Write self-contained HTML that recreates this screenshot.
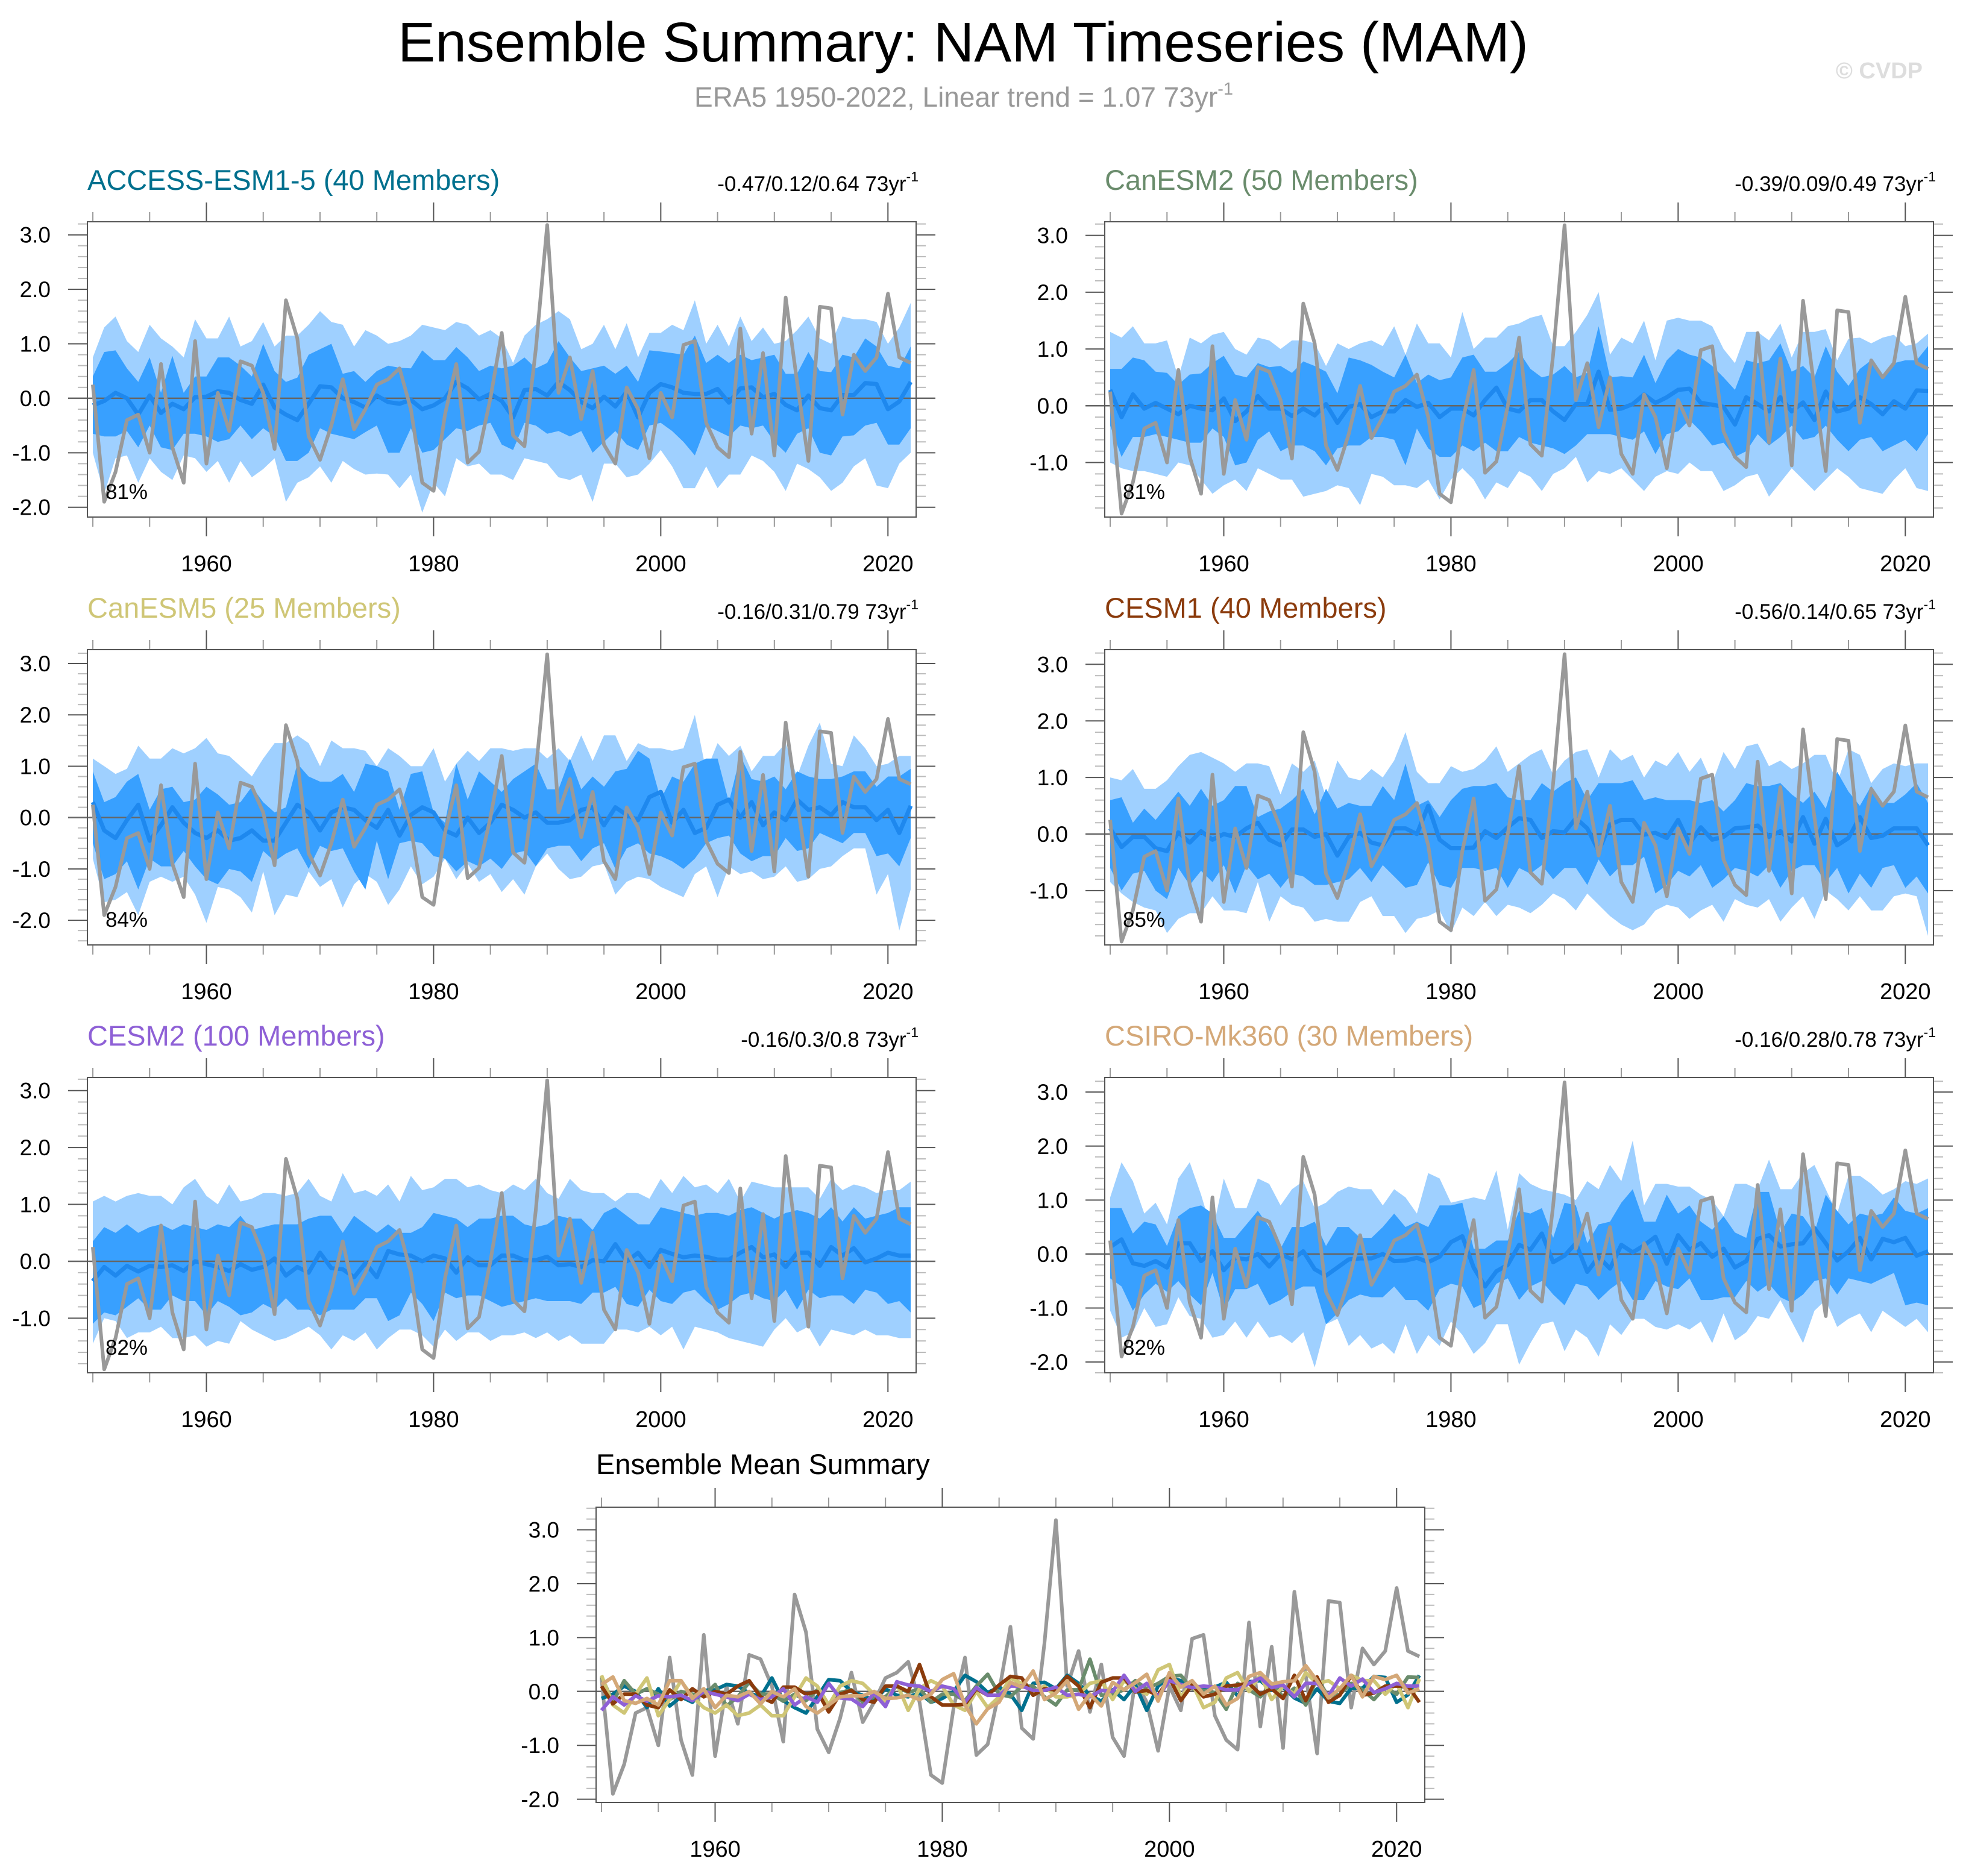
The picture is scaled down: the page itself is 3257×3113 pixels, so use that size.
<!DOCTYPE html>
<html><head><meta charset="utf-8">
<style>
html,body{margin:0;padding:0;background:#fff;}
svg{display:block;font-family:"Liberation Sans",Arial,sans-serif;}
</style></head>
<body>
<svg id="chart" width="3257" height="3113" viewBox="0 0 3257 3113" xmlns="http://www.w3.org/2000/svg">
<rect x="0" y="0" width="3257" height="3113" fill="#fff"/>
<text x="1598" y="102" font-size="93" text-anchor="middle" fill="#000">Ensemble Summary: NAM Timeseries (MAM)</text>
<text x="1152" y="177" font-size="46" fill="#999">ERA5 1950-2022, Linear trend = 1.07 73yr<tspan font-size="29" dy="-20">-1</tspan></text>
<text x="3190" y="130" font-size="38" font-weight="bold" text-anchor="end" fill="#ddd">© CVDP</text>
<g id="plots"></g>
</svg>
<script>
const years = [];
for (let y = 1950; y <= 2022; y++) years.push(y);

const era5 = [0.25,-1.9,-1.35,-0.4,-0.3,-1.0,0.63,-0.9,-1.55,1.05,
-1.2,0.1,-0.6,0.68,0.6,0.1,-0.93,1.8,1.1,-0.7,
-1.13,-0.5,0.35,-0.57,-0.2,0.25,0.35,0.55,-0.2,-1.55,
-1.7,-0.3,0.63,-1.18,-0.98,0.0,1.2,-0.68,-0.88,0.9,
3.18,0.1,0.75,-0.38,0.5,-0.85,-1.2,0.2,-0.2,-1.1,
0.1,-0.35,0.98,1.05,-0.45,-0.9,-1.08,1.28,-0.65,0.83,
-1.05,1.85,0.3,-1.15,1.68,1.65,-0.3,0.8,0.5,0.75,
1.92,0.75,0.65];

/* ACCESS-ESM1-5 */
const accessMean = [-0.13,-0.05,0.1,0.0,-0.3,0.05,-0.27,-0.1,-0.2,0.02,
0.03,0.13,0.1,-0.03,-0.1,0.25,-0.17,-0.3,-0.4,-0.1,
0.22,0.2,0.0,-0.07,-0.17,0.05,-0.07,-0.1,-0.03,-0.2,
-0.13,0.0,0.3,0.18,-0.02,0.08,-0.05,-0.35,0.15,0.17,
0.05,0.3,0.15,-0.07,-0.18,0.03,-0.15,0.12,-0.35,0.1,
0.26,0.2,0.1,0.08,0.08,0.17,-0.08,0.18,0.2,0.02,
0.08,-0.12,-0.22,0.05,-0.18,-0.22,0.06,0.06,0.28,0.26,
-0.2,-0.06,0.3];
const accessInnerHi = [0.4,0.85,0.88,0.55,0.3,0.75,0.1,0.78,0.1,0.4,
0.4,0.75,0.75,0.6,0.4,1.0,0.5,0.3,0.38,0.8,
0.9,1.0,0.45,0.5,0.3,0.5,0.6,0.56,0.55,0.88,
0.7,0.7,0.94,0.75,0.5,0.6,0.55,0.6,0.75,0.55,
0.65,1.05,0.75,0.5,0.55,0.6,0.45,0.6,0.3,0.88,
0.86,0.83,0.8,1.15,0.65,0.8,0.65,0.8,0.7,0.75,
0.8,0.45,0.45,0.85,0.5,0.48,0.8,0.75,1.1,0.95,
0.6,0.55,0.95];
const accessOuterHi = [0.75,1.3,1.5,1.05,0.85,1.35,1.1,0.95,0.75,1.45,
1.1,1.1,1.5,0.95,1.05,1.4,0.95,1.15,1.15,1.35,
1.6,1.4,1.35,0.95,1.25,1.15,1.0,1.05,1.15,1.35,
1.3,1.25,1.4,1.35,1.15,1.25,1.1,0.65,1.15,1.35,
1.45,1.6,1.45,0.9,1.0,1.35,0.9,1.38,0.75,1.2,
1.2,1.35,1.25,1.8,1.0,1.35,0.95,1.5,1.05,1.3,
1.0,1.05,1.25,1.5,1.1,1.0,1.5,1.45,1.45,1.4,
1.0,1.3,1.75];
const accessInnerLo = [-0.65,-0.7,-0.7,-0.6,-0.9,-0.5,-0.9,-0.95,-0.65,-0.65,
-0.7,-0.8,-0.75,-0.5,-0.75,-0.55,-0.7,-1.15,-1.15,-1.0,
-0.55,-0.65,-0.7,-0.75,-0.62,-0.5,-1.0,-1.0,-0.55,-1.0,
-0.95,-0.75,-0.55,-0.6,-0.5,-0.45,-0.85,-0.95,-0.45,-0.5,
-0.65,-0.6,-0.7,-0.6,-1.0,-0.8,-0.6,-0.85,-0.95,-0.5,
-0.45,-0.6,-0.8,-1.05,-0.5,-0.6,-0.7,-0.5,-0.55,-0.5,
-0.8,-1.0,-0.65,-0.55,-1.0,-1.05,-0.7,-0.68,-0.5,-0.45,
-0.85,-0.85,-0.55];
const accessOuterLo = [-1.0,-1.75,-1.1,-1.05,-1.55,-1.1,-1.35,-1.5,-1.05,-1.1,
-1.35,-1.15,-1.55,-1.15,-1.45,-1.3,-1.1,-1.9,-1.55,-1.45,
-1.25,-1.55,-1.15,-1.3,-1.4,-1.38,-1.4,-1.65,-1.4,-2.1,
-1.55,-1.8,-1.1,-1.25,-1.2,-1.4,-1.4,-1.5,-1.1,-1.15,
-1.2,-1.45,-1.5,-1.4,-1.9,-1.2,-1.2,-1.45,-1.4,-1.2,
-0.95,-1.25,-1.65,-1.65,-1.25,-1.65,-1.4,-1.4,-1.05,-1.15,
-1.35,-1.7,-1.2,-1.3,-1.45,-1.7,-1.55,-1.25,-1.1,-1.6,
-1.65,-1.2,-1.0];

/* CanESM2 */
const canesm2Mean = [0.28,-0.2,0.2,-0.05,0.05,-0.05,-0.15,0.0,-0.05,-0.08,
0.13,-0.27,-0.1,0.17,-0.05,-0.05,-0.18,-0.05,-0.17,0.03,
-0.3,-0.02,0.03,-0.2,-0.1,-0.1,0.1,-0.02,0.05,-0.2,
-0.05,-0.05,-0.17,0.1,0.32,-0.05,-0.1,0.1,0.1,-0.1,
-0.25,0.03,0.03,0.6,-0.07,-0.05,0.03,0.2,0.05,0.15,
0.28,0.3,0.05,0.02,-0.02,-0.33,0.15,0.03,-0.1,0.15,
-0.1,0.06,-0.25,0.25,-0.1,-0.05,0.15,0.03,-0.15,0.08,
-0.05,0.27,0.26];
const canesm2InnerHi = [0.65,0.65,0.85,0.8,0.6,0.58,0.37,0.55,0.57,0.75,
0.88,0.55,0.5,0.75,0.68,0.7,0.58,0.78,0.7,0.6,
0.22,0.85,0.8,0.72,0.6,0.5,0.9,0.4,0.55,0.45,
0.5,0.85,0.9,0.6,0.6,0.75,0.95,0.65,0.5,0.55,
0.7,0.5,0.58,1.4,0.5,0.52,0.5,0.9,0.4,0.8,
1.0,0.9,0.85,0.7,0.5,0.28,0.8,0.75,0.8,1.1,
0.6,0.7,0.5,1.05,0.6,0.35,0.65,0.8,0.5,0.75,
0.8,0.8,1.05];
const canesm2OuterHi = [1.3,1.2,1.4,1.1,1.1,1.15,0.5,1.2,1.1,1.25,
1.3,1.0,0.9,1.2,1.15,1.0,1.15,1.15,1.1,0.7,
1.1,1.0,1.1,1.15,1.05,1.4,0.9,1.45,1.1,1.1,
0.85,1.65,1.0,1.2,1.2,1.4,1.45,1.55,1.6,1.05,
1.05,1.3,1.6,2.0,0.9,1.2,1.1,1.5,0.8,1.5,
1.55,1.5,1.5,1.4,1.0,0.75,1.3,1.3,1.15,1.45,
0.85,1.3,1.3,1.35,0.8,1.18,1.2,1.1,1.2,1.25,
1.05,1.1,1.27];
const canesm2InnerLo = [-0.35,-0.9,-0.55,-0.55,-0.5,-0.55,-0.6,-0.65,-0.65,-0.4,
-0.55,-1.05,-1.0,-0.6,-0.45,-0.8,-0.7,-0.7,-0.8,-1.05,
-0.75,-0.7,-0.7,-0.55,-0.55,-0.6,-1.05,-0.4,-0.75,-0.9,
-0.9,-0.7,-0.8,-0.65,-0.8,-0.8,-0.55,-0.65,-0.7,-0.75,
-0.85,-0.7,-0.5,-0.5,-0.5,-0.55,-0.6,-0.45,-0.85,-0.5,
-0.45,-0.25,-0.45,-0.7,-0.65,-0.9,-0.8,-0.5,-0.7,-0.55,
-0.35,-0.6,-0.55,-0.35,-0.6,-0.8,-0.6,-0.55,-0.8,-0.7,
-0.6,-0.8,-0.5];
const canesm2OuterLo = [-1.0,-1.1,-1.15,-1.15,-1.2,-1.25,-1.0,-1.05,-1.3,-1.55,
-1.4,-1.3,-1.5,-1.1,-1.2,-1.3,-1.3,-1.6,-1.55,-1.5,
-1.4,-1.45,-1.75,-1.2,-1.25,-1.4,-1.4,-1.45,-1.3,-1.65,
-1.3,-1.1,-1.3,-1.65,-1.35,-1.45,-1.15,-1.25,-1.5,-1.2,
-1.1,-0.9,-1.35,-1.15,-1.2,-1.1,-1.3,-1.5,-1.25,-1.15,
-1.2,-1.0,-1.15,-1.15,-1.5,-1.4,-1.25,-1.2,-1.6,-1.35,
-1.1,-1.3,-1.5,-1.3,-1.1,-1.25,-1.45,-1.5,-1.55,-1.3,
-1.1,-1.45,-1.5];

/* CanESM5 */
const canesm5Mean = [0.3,-0.25,-0.4,-0.05,0.25,-0.45,-0.15,0.2,-0.1,-0.3,
-0.4,-0.25,-0.45,-0.4,-0.25,-0.45,-0.45,-0.1,0.25,0.1,
-0.25,0.1,0.2,0.15,-0.05,-0.2,0.15,-0.35,0.05,0.2,
0.1,-0.25,-0.35,0.0,-0.3,-0.1,0.25,0.15,0.0,0.1,
-0.1,-0.1,-0.05,0.15,0.2,-0.15,0.2,0.05,-0.05,0.4,
0.5,-0.1,0.15,-0.3,-0.2,0.25,0.35,0.0,0.3,-0.15,
0.1,-0.05,0.35,0.15,0.2,0.05,0.3,0.2,0.2,-0.05,
0.15,-0.3,0.23];
const canesm5InnerHi = [0.9,0.3,0.4,0.7,0.85,0.15,0.55,0.6,0.3,0.35,
0.6,0.45,0.25,0.3,0.6,0.3,0.1,0.2,1.05,0.8,
0.7,0.7,0.85,0.5,1.05,1.0,0.9,0.15,0.85,0.9,
0.1,-0.1,1.05,0.35,0.9,0.7,0.5,0.75,0.9,1.05,
0.55,0.55,1.15,0.55,0.8,0.6,0.9,0.95,1.3,1.15,
0.35,0.8,0.7,1.05,1.15,1.15,0.3,1.2,0.75,0.7,
0.8,0.55,0.9,0.8,0.75,0.75,0.8,0.9,0.9,0.6,
0.8,0.8,0.95];
const canesm5OuterHi = [1.15,1.0,0.85,0.95,1.4,1.15,1.15,1.35,1.25,1.35,
1.55,1.25,1.2,1.0,0.8,1.15,1.45,1.45,1.6,1.45,
1.0,1.5,1.35,1.35,1.3,1.0,1.35,1.2,1.0,1.0,
1.35,0.7,1.05,1.3,1.1,1.35,1.35,1.3,1.35,1.35,
1.15,1.35,1.1,1.6,1.1,1.6,1.6,1.1,1.45,1.35,
1.35,1.3,1.35,2.0,0.9,1.45,1.2,1.4,0.9,1.2,
1.2,1.45,0.8,1.4,1.85,1.05,1.0,1.6,1.35,1.0,
1.05,1.2,1.2];
const canesm5InnerLo = [-0.5,-1.2,-1.1,-0.85,-1.4,-0.8,-0.95,-0.95,-0.65,-0.95,
-1.2,-1.3,-1.0,-1.05,-1.25,-0.65,-0.85,-0.7,-0.6,-1.0,
-0.55,-0.65,-0.6,-1.05,-1.4,-0.45,-1.2,-0.5,-0.45,-0.5,
-0.75,-0.8,-1.05,-0.85,-0.95,-0.8,-1.0,-0.7,-0.65,-0.95,
-0.6,-0.55,-0.55,-0.85,-0.6,-0.5,-1.0,-0.6,-0.5,-0.7,
-0.75,-0.85,-1.0,-0.8,-0.5,-0.4,-0.35,-0.7,-0.85,-0.75,
-0.75,-0.4,-0.65,-0.6,-0.3,-0.4,-0.5,-0.3,-0.3,-0.75,
-0.7,-0.95,-0.4];
const canesm5OuterLo = [-0.8,-1.65,-1.6,-1.45,-1.9,-1.25,-1.15,-1.25,-1.15,-1.5,
-2.05,-1.35,-1.4,-1.55,-1.85,-1.05,-1.9,-1.5,-1.55,-1.05,
-1.35,-1.2,-1.75,-1.3,-1.1,-1.25,-1.7,-1.4,-0.95,-1.3,
-1.15,-0.8,-1.2,-0.9,-1.25,-1.1,-1.45,-1.2,-1.5,-0.95,
-0.7,-1.0,-1.2,-1.15,-0.95,-0.9,-1.5,-1.25,-1.15,-1.2,
-1.35,-1.45,-1.55,-1.1,-0.95,-1.55,-0.95,-1.1,-1.05,-1.2,
-1.15,-0.95,-1.25,-1.2,-1.0,-0.95,-0.75,-0.6,-0.6,-1.5,
-1.1,-2.2,-1.4];

/* CESM1 */
const cesm1Mean = [0.1,-0.23,-0.05,-0.05,-0.25,-0.3,0.03,-0.15,0.05,-0.1,
0.0,-0.05,0.1,0.2,-0.1,-0.2,0.08,0.08,-0.05,0.0,
-0.38,-0.05,0.02,-0.15,-0.2,0.1,0.1,0.0,0.5,-0.1,
-0.25,-0.25,-0.24,0.05,-0.07,0.12,0.28,0.25,-0.07,0.05,
0.03,0.28,0.1,-0.3,0.17,0.25,0.25,-0.01,0.02,-0.07,
0.25,-0.17,0.12,-0.1,-0.05,0.1,0.12,0.15,-0.05,0.05,
-0.13,0.3,-0.17,0.27,-0.2,-0.07,0.3,-0.07,-0.03,0.1,
0.1,0.1,-0.2];
const cesm1InnerHi = [0.6,0.65,0.2,0.45,0.25,0.5,0.75,0.5,0.8,0.5,
0.6,0.85,0.85,0.3,0.4,0.45,0.6,0.8,0.35,0.8,
0.45,0.55,0.5,0.5,0.85,0.6,1.25,0.5,0.6,0.3,
0.6,0.8,0.85,0.85,0.9,0.65,0.6,0.6,0.9,0.75,
0.9,1.0,0.6,0.9,0.9,0.9,0.95,0.6,0.65,0.6,
0.6,0.6,0.55,0.6,0.4,0.6,0.9,0.85,0.85,0.9,
0.7,0.55,0.75,0.45,1.1,0.75,0.5,0.85,0.55,0.55,
0.7,0.9,0.55];
const cesm1OuterHi = [1.0,0.95,1.15,0.8,0.8,0.95,1.2,1.4,1.45,1.35,
1.25,1.1,1.25,1.25,1.2,0.7,1.25,1.1,1.3,0.65,
1.3,1.0,0.95,1.15,1.0,1.3,1.8,1.1,0.9,0.9,
1.2,1.1,1.15,1.3,1.55,1.1,1.25,1.4,1.5,1.05,
1.3,1.45,1.5,1.0,1.5,1.3,1.4,1.0,1.3,1.2,
1.45,1.1,1.35,0.9,1.45,1.15,1.55,1.6,1.2,1.3,
1.15,1.25,1.4,1.4,0.9,1.5,1.4,0.9,1.15,1.25,
1.2,1.25,1.25];
const cesm1InnerLo = [-0.6,-1.0,-0.7,-0.65,-1.0,-1.15,-0.6,-0.9,-0.65,-0.85,
-0.55,-1.05,-0.55,-0.8,-0.7,-0.95,-0.7,-0.75,-0.9,-0.9,
-0.85,-0.8,-0.6,-0.85,-0.55,-0.75,-0.95,-0.9,-0.5,-0.9,
-0.95,-0.6,-0.6,-0.65,-0.6,-0.95,-0.6,-0.7,-0.55,-0.8,
-0.6,-0.6,-0.9,-0.45,-0.75,-0.55,-0.55,-0.4,-1.05,-0.9,
-0.65,-0.75,-0.55,-0.95,-0.8,-0.6,-0.65,-0.75,-0.55,-0.95,
-0.65,-0.55,-0.55,-0.85,-0.6,-1.05,-0.7,-0.95,-0.6,-0.55,
-0.95,-0.75,-1.05];
const cesm1OuterLo = [-0.85,-1.05,-1.2,-1.3,-1.35,-1.75,-1.5,-1.4,-1.4,-1.1,
-1.35,-1.35,-1.4,-0.85,-1.55,-1.1,-1.25,-1.3,-1.55,-1.5,
-1.55,-1.55,-1.2,-1.1,-1.45,-1.45,-1.75,-1.5,-1.45,-1.35,
-1.75,-1.3,-1.45,-1.2,-1.45,-1.25,-1.3,-1.4,-1.25,-1.05,
-1.15,-1.35,-1.05,-1.25,-1.45,-1.6,-1.7,-1.6,-1.35,-1.25,
-1.3,-1.5,-1.35,-1.25,-1.55,-1.15,-1.25,-1.3,-1.15,-1.55,
-1.3,-1.1,-1.5,-1.0,-1.15,-1.35,-1.1,-1.35,-1.35,-1.1,
-1.05,-1.1,-1.8];

/* CESM2 */
const cesm2Mean = [-0.35,-0.1,-0.25,-0.08,-0.18,-0.08,-0.1,-0.07,-0.17,0.0,
-0.05,-0.1,-0.17,-0.05,-0.15,-0.1,0.05,-0.25,-0.1,-0.2,
0.15,-0.12,-0.14,-0.28,-0.03,-0.28,0.18,0.12,0.1,0.0,
0.1,0.05,-0.2,0.07,-0.07,-0.07,0.1,0.1,0.02,0.02,
0.08,-0.07,-0.05,-0.1,0.02,0.0,0.3,0.0,0.15,-0.1,
0.2,0.13,0.07,0.1,0.08,0.03,0.03,0.15,0.25,0.07,
0.12,-0.1,0.15,0.15,-0.08,0.25,0.1,0.23,-0.02,0.05,
0.15,0.1,0.1];
const cesm2InnerHi = [0.35,0.6,0.5,0.65,0.5,0.6,0.65,0.55,0.65,0.6,
0.55,0.65,0.6,0.8,0.55,0.6,0.65,0.65,0.65,0.75,
0.8,0.8,0.5,0.8,0.65,0.5,0.65,0.5,0.5,0.6,
0.85,0.8,0.75,0.6,0.75,0.75,0.8,0.8,0.65,0.6,
0.65,0.8,0.75,0.75,0.55,0.85,0.95,0.8,0.65,0.65,
0.95,0.9,0.85,0.8,0.85,0.85,0.8,0.9,0.95,0.85,
0.75,0.85,0.9,0.85,0.75,0.95,0.7,0.95,0.75,0.8,
0.85,0.95,0.95];
const cesm2OuterHi = [1.05,1.15,1.05,1.15,1.2,1.15,1.15,1.0,1.3,1.45,
1.15,1.0,1.35,1.05,1.1,1.2,1.2,1.15,1.2,1.45,
1.15,1.05,1.55,1.2,1.25,1.15,1.35,1.05,1.5,1.25,
1.3,1.45,1.45,1.3,1.35,1.25,1.2,1.35,1.25,1.45,
1.2,1.1,1.45,1.25,1.2,1.2,1.05,1.2,1.2,1.1,
1.45,1.2,1.5,1.3,1.35,1.2,1.45,1.05,1.4,1.35,
1.3,1.3,1.3,1.3,1.1,1.45,1.25,1.35,1.3,1.2,
1.25,1.25,1.4];
const cesm2InnerLo = [-1.1,-0.9,-0.95,-0.8,-0.65,-0.85,-0.85,-0.6,-0.7,-0.7,
-0.95,-0.7,-0.8,-0.95,-0.9,-0.75,-0.85,-0.65,-0.85,-0.85,
-0.95,-0.85,-0.85,-0.85,-0.65,-0.65,-1.05,-0.95,-0.55,-0.75,
-1.05,-0.55,-0.65,-0.6,-0.6,-0.7,-0.8,-0.75,-0.7,-0.65,
-0.7,-0.7,-0.7,-0.75,-0.55,-0.55,-0.45,-0.75,-0.8,-0.5,
-0.7,-0.75,-0.55,-0.5,-0.7,-0.85,-0.75,-0.6,-0.55,-0.65,
-0.7,-0.5,-0.85,-0.5,-0.65,-0.6,-0.6,-0.75,-0.5,-0.55,
-0.75,-0.7,-0.9];
const cesm2OuterLo = [-1.45,-1.0,-1.05,-1.35,-1.25,-1.25,-1.15,-1.35,-1.35,-1.3,
-1.5,-1.4,-1.45,-1.05,-1.2,-1.3,-1.4,-1.35,-1.25,-1.15,
-1.3,-1.55,-1.3,-1.4,-1.25,-1.55,-1.35,-1.2,-1.2,-1.3,
-1.5,-1.2,-1.4,-1.25,-1.25,-1.4,-1.3,-1.3,-1.25,-1.35,
-1.25,-1.4,-1.3,-1.45,-1.45,-1.45,-1.2,-1.2,-1.25,-1.15,
-1.3,-1.15,-1.55,-1.15,-1.2,-1.25,-1.35,-1.4,-1.45,-1.5,
-1.2,-1.0,-1.25,-1.15,-1.5,-1.2,-1.25,-1.3,-1.2,-1.3,
-1.3,-1.35,-1.35];

/* CSIRO-Mk360 */
const csiroMean = [0.13,0.27,-0.17,-0.22,-0.13,-0.25,0.2,0.2,-0.13,0.05,
-0.3,-0.07,-0.1,0.0,-0.23,0.0,-0.1,0.05,-0.28,-0.4,
-0.25,-0.1,-0.08,-0.08,0.0,-0.13,-0.12,-0.07,-0.15,-0.05,
0.22,0.33,-0.25,-0.6,-0.32,-0.2,0.17,0.08,0.38,-0.15,
-0.03,0.2,-0.33,-0.05,-0.27,0.17,0.03,0.16,0.32,-0.18,
0.35,0.08,0.2,-0.05,0.1,-0.25,-0.13,0.28,0.35,0.14,
0.18,0.2,0.48,0.2,-0.12,0.05,0.3,-0.1,0.28,0.22,
0.3,-0.03,0.05];
const csiroInnerHi = [0.85,0.85,0.38,0.6,0.55,0.15,0.7,0.85,0.9,0.75,
0.3,0.3,0.55,0.8,0.5,0.1,0.5,0.5,0.6,0.15,
0.5,0.5,0.3,0.3,0.5,0.75,0.5,0.6,0.5,0.9,
0.9,0.95,0.1,0.1,0.25,0.25,0.8,0.75,0.85,0.3,
0.95,0.9,0.2,0.55,0.6,0.95,1.2,0.6,0.6,1.1,
0.75,0.9,0.6,0.45,0.7,0.4,0.3,1.15,1.15,0.4,
0.75,0.7,0.4,1.1,0.8,0.55,0.75,0.7,0.75,1.05,
0.8,0.75,0.85];
const csiroOuterHi = [1.05,1.7,1.35,0.75,0.95,0.55,1.4,1.7,1.1,0.4,
1.4,0.85,0.85,1.4,1.3,0.9,1.2,1.35,0.85,0.95,
1.15,1.25,1.2,1.2,0.9,1.2,1.05,0.75,1.5,1.4,
0.95,1.0,1.05,1.0,1.55,0.45,1.5,1.3,1.2,1.15,
1.1,1.0,1.35,1.2,1.65,1.35,2.1,0.9,1.3,1.3,
1.25,1.25,1.1,1.0,0.7,1.3,1.3,1.2,1.75,1.2,
1.2,1.5,1.65,1.2,0.75,1.45,1.45,1.3,1.1,1.2,
1.35,1.3,1.4];
const csiroInnerLo = [-0.45,-0.6,-1.05,-0.75,-0.55,-0.7,-0.5,-0.75,-0.95,-0.35,
-1.05,-0.65,-0.65,-0.55,-0.95,-0.85,-0.7,-0.6,-0.6,-1.3,
-1.1,-0.85,-0.75,-0.8,-0.8,-0.6,-0.85,-0.85,-1.05,-0.65,
-0.55,-0.6,-1.0,-0.9,-0.55,-0.45,-0.85,-0.6,-0.5,-0.75,
-0.95,-0.55,-0.6,-0.85,-0.65,-0.5,-0.85,-0.85,-0.5,-0.6,
-0.65,-0.45,-0.85,-0.85,-0.8,-0.8,-0.5,-0.7,-0.55,-0.8,
-0.9,-0.75,-0.5,-0.45,-0.75,-0.45,-0.5,-0.55,-0.45,-0.35,
-0.95,-0.9,-0.95];
const csiroOuterLo = [-1.05,-1.55,-1.45,-1.0,-1.35,-1.3,-0.8,-1.15,-1.2,-1.55,
-1.5,-1.25,-1.55,-1.25,-1.55,-1.5,-1.65,-1.45,-2.1,-1.3,
-1.2,-1.7,-1.5,-1.75,-1.65,-1.85,-1.3,-1.85,-1.5,-1.7,
-1.25,-1.5,-1.85,-1.65,-1.3,-1.3,-2.05,-1.65,-1.3,-1.25,
-1.8,-1.4,-1.55,-1.9,-1.3,-1.5,-1.2,-1.2,-1.35,-1.4,
-1.3,-1.4,-1.25,-1.65,-1.1,-1.6,-1.45,-1.15,-1.2,-0.85,
-1.25,-1.65,-1.05,-0.85,-1.35,-1.2,-1.1,-1.45,-1.05,-1.2,
-1.35,-1.2,-1.45];

const xTickYears = [1960, 1980, 2000, 2020];
const models = ["ACCESS-ESM1-5 (40 Members)","CanESM2 (50 Members)","CanESM5 (25 Members)","CESM1 (40 Members)","CESM2 (100 Members)","CSIRO-Mk360 (30 Members)"];
const trendTexts = ["-0.47/0.12/0.64 73yr","-0.39/0.09/0.49 73yr","-0.16/0.31/0.79 73yr","-0.56/0.14/0.65 73yr","-0.16/0.3/0.8 73yr","-0.16/0.28/0.78 73yr"];
const pctTexts = ["81%","81%","84%","85%","82%","82%"];
const modelColors = ["#00708e","#6a8c6c","#cfc676","#8b3b0c","#8e60d6","#d4a878"];
const meanSeries = [accessMean, canesm2Mean, canesm5Mean, cesm1Mean, cesm2Mean, csiroMean];
const innerHi = [accessInnerHi, canesm2InnerHi, canesm5InnerHi, cesm1InnerHi, cesm2InnerHi, csiroInnerHi];
const innerLo = [accessInnerLo, canesm2InnerLo, canesm5InnerLo, cesm1InnerLo, cesm2InnerLo, csiroInnerLo];
const outerHi = [accessOuterHi, canesm2OuterHi, canesm5OuterHi, cesm1OuterHi, cesm2OuterHi, csiroOuterHi];
const outerLo = [accessOuterLo, canesm2OuterLo, canesm5OuterLo, cesm1OuterLo, cesm2OuterLo, csiroOuterLo];
const yRanges = [[-2.18,3.24],[-1.96,3.24],[-2.48,3.27],[-1.96,3.26],[-1.96,3.23],[-2.2,3.27]];
const yLabelSets = [[3,2,1,0,-1,-2],[3,2,1,0,-1],[3,2,1,0,-1,-2],[3,2,1,0,-1],[3,2,1,0,-1],[3,2,1,0,-1,-2]];
const slugs = ["access-esm1-5","canesm2","canesm5","cesm1","cesm2","csiro-mk360"];

const NS = "http://www.w3.org/2000/svg";
const root = document.getElementById("plots");
const W = 1375, H = 490, X0 = 1949.52, X1 = 2022.48;

function mk(tag, attrs, parent) {
  const e = document.createElementNS(NS, tag);
  for (const k in attrs) e.setAttribute(k, attrs[k]);
  parent.appendChild(e);
  return e;
}

function drawAxes(g, L, T, ymin, ymax, ylabels, slug) {
  const sx = v => L + (v - X0) / (X1 - X0) * W;
  const sy = v => T + H - (v - ymin) / (ymax - ymin) * H;
  for (let i = Math.ceil(ymin * 5); i <= Math.floor(ymax * 5); i++) {
    const v = i / 5, y = sy(v);
    const major = i % 5 === 0;
    const len = major ? 32 : 16;
    const col = major ? "#555" : "#bbb";
    const t1 = mk("line", {x1: L - len, y1: y, x2: L, y2: y, stroke: col, "stroke-width": 2}, g);
    
    
    const t2 = mk("line", {x1: L + W, y1: y, x2: L + W + len, y2: y, stroke: col, "stroke-width": 2}, g);
    
    
  }
  for (let yr = 1950; yr <= 2020; yr += 5) {
    const x = sx(yr);
    const major = yr % 20 === 0;
    const len = major ? 32 : 16;
    const col = major ? "#555" : "#999";
    const t1 = mk("line", {x1: x, y1: T - len, x2: x, y2: T, stroke: col, "stroke-width": 2}, g);
    
    
    const t2 = mk("line", {x1: x, y1: T + H, x2: x, y2: T + H + len, stroke: col, "stroke-width": 2}, g);
    
    
  }
  ylabels.forEach(v => {
    const t = mk("text", {x: L - 61, y: sy(v) + 13, "font-size": 37, "text-anchor": "end", fill: "#000"}, g);
    t.textContent = v.toFixed(1);
    
    
  });
  xTickYears.forEach(yr => {
    const t = mk("text", {x: sx(yr), y: T + H + 90, "font-size": 38, "text-anchor": "middle", fill: "#000"}, g);
    t.textContent = String(yr);
    
    
  });
  return {sx, sy};
}

function linePath(arr, sx, sy) {
  return arr.map((v, i) => (i ? "L" : "M") + sx(years[i]).toFixed(1) + "," + sy(v).toFixed(1)).join(" ");
}
function bandPath(hi, lo, sx, sy) {
  let d = hi.map((v, i) => (i ? "L" : "M") + sx(years[i]).toFixed(1) + "," + sy(v).toFixed(1)).join(" ");
  for (let i = lo.length - 1; i >= 0; i--) d += " L" + sx(years[i]).toFixed(1) + "," + sy(lo[i]).toFixed(1);
  return d + " Z";
}

for (let p = 0; p < 6; p++) {
  const col = p % 2, row = Math.floor(p / 2);
  const L = 145 + col * 1688, T = 368 + row * 710;
  const g = mk("g", {}, root);
  
  
  const [ymin, ymax] = yRanges[p];
  const {sx, sy} = drawAxes(g, L, T, ymin, ymax, yLabelSets[p], slugs[p]);
  const clipId = "clip" + p;
  const cp = mk("clipPath", {id: clipId}, g);
  mk("rect", {x: L, y: T, width: W, height: H}, cp);
  const pg = mk("g", {"clip-path": "url(#" + clipId + ")"}, g);
  const ob = mk("path", {d: bandPath(outerHi[p], outerLo[p], sx, sy), fill: "#9fd0ff"}, pg);
  
  
  const ib = mk("path", {d: bandPath(innerHi[p], innerLo[p], sx, sy), fill: "#38a0ff"}, pg);
  
  
  const z = mk("line", {x1: L - 32, y1: sy(0), x2: L + W + 32, y2: sy(0), stroke: "#666", "stroke-width": 2.5}, g);
  
  
  const ml = mk("path", {d: linePath(meanSeries[p], sx, sy), fill: "none", stroke: "#1e88ee", "stroke-width": 7, "stroke-linejoin": "round"}, g);
  
  
  const el = mk("path", {d: linePath(era5, sx, sy), fill: "none", stroke: "#999", "stroke-width": 6, "stroke-linejoin": "round"}, g);
  
  
  const fr = mk("rect", {x: L, y: T, width: W, height: H, fill: "none", stroke: "#555", "stroke-width": 2}, g);
  
  
  const tt = mk("text", {x: L, y: T - 53, "font-size": 47, fill: modelColors[p]}, g);
  tt.textContent = models[p];
  
  
  const tr = mk("text", {x: L + W + 4, y: T - 51, "font-size": 35, "text-anchor": "end", fill: "#000"}, g);
  tr.textContent = trendTexts[p];
  const sup = mk("tspan", {"font-size": 23, dy: -16}, tr);
  sup.textContent = "-1";
  
  
  const pc = mk("text", {x: L + 30, y: T + H - 30, "font-size": 35, fill: "#000"}, g);
  pc.textContent = pctTexts[p];
  
  
}

(function () {
  const L = 989, T = 2501;
  const g = mk("g", {}, root);
  
  
  const {sx, sy} = drawAxes(g, L, T, -2.06, 3.42, [3,2,1,0,-1,-2], "summary");
  const z = mk("line", {x1: L - 32, y1: sy(0), x2: L + W + 32, y2: sy(0), stroke: "#666", "stroke-width": 2.5}, g);
  
  
  const el = mk("path", {d: linePath(era5, sx, sy), fill: "none", stroke: "#999", "stroke-width": 6, "stroke-linejoin": "round"}, g);
  
  
  for (let p = 0; p < 6; p++) {
    const ln = mk("path", {d: linePath(meanSeries[p], sx, sy), fill: "none", stroke: modelColors[p], "stroke-width": 6, "stroke-linejoin": "round"}, g);
    
    
  }
  const fr = mk("rect", {x: L, y: T, width: W, height: H, fill: "none", stroke: "#555", "stroke-width": 2}, g);
  
  
  const tt = mk("text", {x: L, y: T - 55, "font-size": 47, fill: "#000"}, g);
  tt.textContent = "Ensemble Mean Summary";
  
  
})();
</script>
</body></html>
